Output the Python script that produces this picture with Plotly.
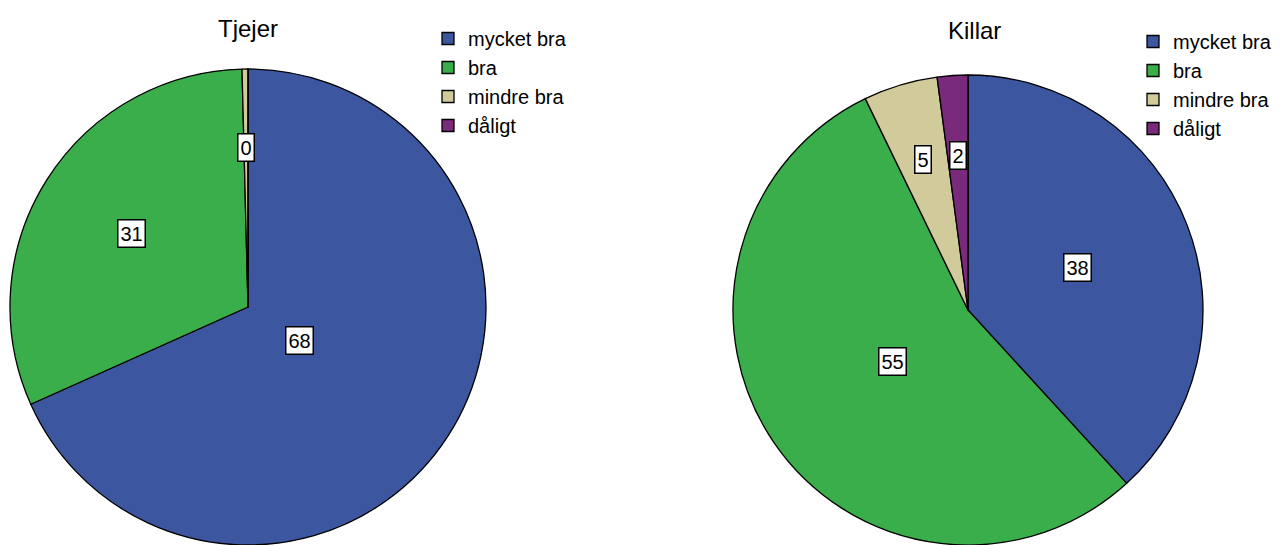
import math
import plotly.graph_objects as go

kategorier = ["mycket bra", "bra", "mindre bra", "dåligt"]
tjejer = [68.3, 31.3, 0.4, 0.0]
tjejer_text = ["68", "31", "0", ""]
killar = [38.2, 54.6, 5.1, 2.1]
killar_text = ["38", "55", "5", "2"]

FARGER = ["#3C56A0", "#3AAE4A", "#D1CB9B", "#7A2A7A"]
W, H = 1280, 545

# pie placement (paper fractions) and where the boxed labels sit along the radius
dom_tjejer = dict(x=[10 / W, 486 / W], y=[0.0, 476 / H])
dom_killar = dict(x=[733 / W, 1203 / W], y=[0.0, 470 / H])
rad_tjejer = [0.26, 0.58, 0.67, 0.6]
rad_killar = [0.50, 0.39, 0.67, 0.66]


def etiketter(values, texts, dom, rad):
    cx = (dom["x"][0] + dom["x"][1]) / 2 * W
    cy = (dom["y"][0] + dom["y"][1]) / 2 * H
    r = min((dom["x"][1] - dom["x"][0]) * W, (dom["y"][1] - dom["y"][0]) * H) / 2
    tot = sum(values)
    cum = 0
    ann = []
    for v, t, f in zip(values, texts, rad):
        mid = (cum + v / 2) / tot * 2 * math.pi
        cum += v
        if not t:
            continue
        x = cx + math.sin(mid) * r * f
        y = cy + math.cos(mid) * r * f
        ann.append(dict(
            x=x / W, y=y / H, xref="paper", yref="paper", text=t, showarrow=False,
            xanchor="center", yanchor="middle",
            font=dict(size=20, color="black"), bgcolor="white",
            bordercolor="black", borderwidth=1.5, borderpad=2
        ))
    return ann


fig = go.Figure()

fig.add_trace(go.Pie(
    labels=kategorier, values=tjejer, domain=dom_tjejer,
    sort=False, direction="clockwise", rotation=0,
    marker=dict(colors=FARGER, line=dict(color="black", width=1.3)),
    textinfo="none", hoverinfo="label+value", legend="legend"
))
# trailing space keeps the second pie's labels apart so legend2 gets its own items
fig.add_trace(go.Pie(
    labels=[k + " " for k in kategorier], values=killar, domain=dom_killar,
    sort=False, direction="clockwise", rotation=0,
    marker=dict(colors=FARGER, line=dict(color="black", width=1.3)),
    textinfo="none", hoverinfo="label+value", legend="legend2"
))

annotations = etiketter(tjejer, tjejer_text, dom_tjejer, rad_tjejer)
annotations += etiketter(killar, killar_text, dom_killar, rad_killar)
annotations.append(dict(x=248 / W, y=1 - 28 / H, xref="paper", yref="paper", text="Tjejer",
                        xanchor="center", yanchor="middle",
                        showarrow=False, font=dict(size=24, color="black")))
annotations.append(dict(x=974 / W, y=1 - 30 / H, xref="paper", yref="paper", text="Killar",
                        xanchor="center", yanchor="middle",
                        showarrow=False, font=dict(size=24, color="black")))

fig.update_layout(
    width=W, height=H,
    margin=dict(l=0, r=0, t=0, b=0, autoexpand=False),
    plot_bgcolor="white", paper_bgcolor="white",
    font=dict(family="Liberation Sans, Arial", color="black"),
    annotations=annotations,
    legend=dict(x=428 / W, y=1 - 19 / H, xanchor="left", yanchor="top",
                font=dict(size=20), bgcolor="rgba(0,0,0,0)", tracegroupgap=0),
    legend2=dict(x=1133 / W, y=1 - 22 / H, xanchor="left", yanchor="top",
                 font=dict(size=20), bgcolor="rgba(0,0,0,0)", tracegroupgap=0),
)

fig.write_html("out.html", config={"displayModeBar": False},
               post_script="document.body.style.margin='0';")
